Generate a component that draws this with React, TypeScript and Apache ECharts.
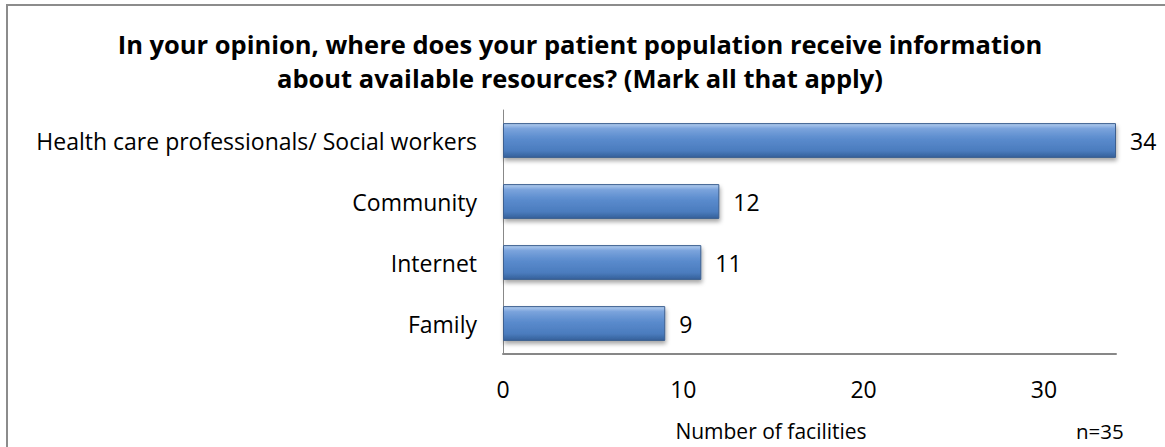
import React, { useEffect, useRef } from "react";
import * as echarts from "echarts";

const categories = ["Family", "Internet", "Community", "Health care professionals/ Social workers"];
const values = [9, 11, 12, 34];
const xTicks = [0, 10, 20, 30];
const titleText = "In your opinion, where does your patient population receive information\nabout available resources? (Mark all that apply)";
const xAxisName = "Number of facilities";
const noteText = "n=35";

const FONT = "'Open Sans', sans-serif";

export default function App() {
  const ref = useRef<HTMLDivElement>(null);
  useEffect(() => {
    if (!ref.current) return;
    const chart = echarts.init(ref.current, undefined, { renderer: "svg" });
    chart.setOption({
      animation: false,
      backgroundColor: "#ffffff",
      title: {
        text: titleText,
        left: 575,
        top: 22,
        textAlign: "center",
        textStyle: { fontFamily: FONT, fontSize: 25.5, fontWeight: "bold", color: "#000", lineHeight: 34 },
      },
      grid: { left: 503, top: 110, width: 613, height: 244, containLabel: false, outerBoundsMode: "none" },
      xAxis: {
        type: "value",
        min: 0,
        max: 34,
        interval: 10,
        axisLine: { show: true, lineStyle: { color: "#878787", width: 2 } },
        axisTick: { show: false },
        splitLine: { show: false },
        axisLabel: {
          fontFamily: FONT,
          fontSize: 23,
          color: "#000",
          margin: 23,
          showMaxLabel: false,
          formatter: (v: number) => (xTicks.includes(v) ? String(v) : ""),
        },
      },
      yAxis: {
        type: "category",
        data: categories,
        axisLine: { show: true, lineStyle: { color: "#888", width: 1 } },
        axisTick: { show: false },
        axisLabel: { fontFamily: FONT, fontSize: 23, color: "#000", margin: 26 },
      },
      series: [
        {
          type: "bar",
          data: values,
          barWidth: "57%",
          itemStyle: {
            color: new echarts.graphic.LinearGradient(0, 0, 0, 1, [
              { offset: 0, color: "#b3cdee" },
              { offset: 0.15, color: "#7aa3dc" },
              { offset: 0.45, color: "#5a8bcd" },
              { offset: 0.8, color: "#4b7cbe" },
              { offset: 1, color: "#35609a" },
            ]),
            borderColor: "#3c5f8f",
            borderWidth: 1,
            shadowBlur: 4,
            shadowOffsetY: 3,
            shadowOffsetX: 1,
            shadowColor: "rgba(0,0,0,0.35)",
          },
          label: {
            show: true,
            position: "right",
            distance: 14,
            fontFamily: FONT,
            fontSize: 23,
            color: "#000",
          },
        },
      ],
      graphic: [
        {
          type: "rect",
          shape: { x: 7, y: 5, width: 1180, height: 470 },
          style: { fill: "none", stroke: "#8c8c8c", lineWidth: 2 },
          silent: true,
        },
        {
          type: "text",
          x: 771,
          y: 431,
          style: {
            text: xAxisName,
            fontFamily: FONT,
            fontSize: 21,
            fill: "#000",
            textAlign: "center",
            textVerticalAlign: "middle",
          },
        },
        {
          type: "text",
          x: 1076,
          y: 431,
          style: { text: noteText, fontFamily: FONT, fontSize: 20.5, fill: "#000", textVerticalAlign: "middle" },
        },
      ],
    });
    return () => chart.dispose();
  }, []);
  return <div ref={ref} style={{ position: "absolute", left: 0, top: 0, width: 1165, height: 447 }} />;
}
